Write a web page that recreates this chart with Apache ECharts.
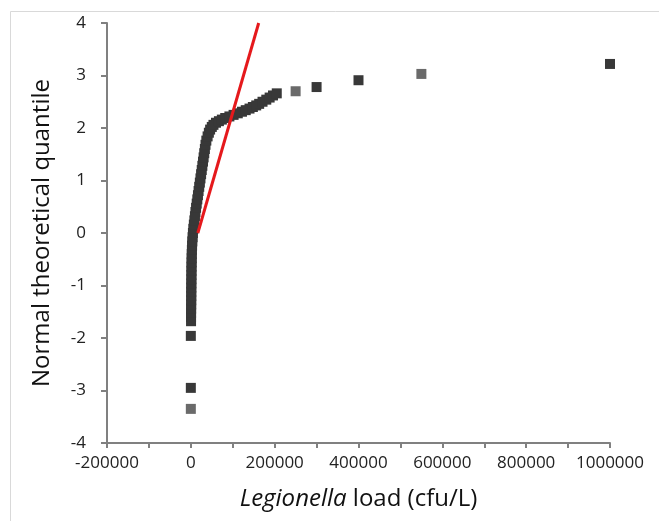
<!DOCTYPE html>
<html>
<head>
<meta charset="utf-8">
<script src="https://cdn.jsdelivr.net/npm/echarts@6/dist/echarts.min.js"></script>
<style>
  html, body { margin: 0; padding: 0; background: #ffffff; }
  #chart { width: 659px; height: 521px; }
</style>
</head>
<body>
<div id="chart"></div>
<script>
// Legionella load (cfu/L) vs normal theoretical quantile
const loads = [
  0, 0, 0,
  500, 500, 600, 700, 800, 900, 1000, 1000, 1100, 1200, 1300, 1400, 1500, 1600, 1800, 2000, 2200, 2500,
  3000, 3500, 4200, 5000, 6000, 7200, 8500, 9800, 11000, 12500, 14000, 15500, 17000, 18500, 20000,
  21500, 23000, 24500, 26000, 27500, 29000, 30500, 32000, 33500, 35000,
  37000, 40000, 43000, 46000, 50000, 54000, 60000, 67000, 74000, 82000, 92000, 102000, 112000,
  122000, 131000, 140000, 148000, 156000, 163000, 171000, 180000, 188000, 196000, 205000,
  250000, 300000, 400000, 550000, 1000000
];
const quantiles = [
  -3.35, -2.95, -1.96,
  -1.68, -1.60, -1.52, -1.44, -1.36, -1.28, -1.20, -1.12, -1.04, -0.96, -0.88, -0.80, -0.72, -0.64, -0.56, -0.48, -0.40, -0.32,
  -0.24, -0.16, -0.08, 0.00, 0.08, 0.16, 0.24, 0.32, 0.40, 0.48, 0.56, 0.64, 0.72, 0.80, 0.88,
  0.96, 1.04, 1.12, 1.20, 1.28, 1.36, 1.44, 1.52, 1.60, 1.68,
  1.76, 1.84, 1.91, 1.97, 2.02, 2.06, 2.10, 2.13, 2.16, 2.19, 2.22, 2.25, 2.28,
  2.31, 2.34, 2.37, 2.40, 2.43, 2.46, 2.50, 2.54, 2.58, 2.62, 2.66,
  2.70, 2.78, 2.91, 3.03, 3.22
];
// points drawn in the lighter grey
const lightPoints = [0, 70, 73];
// reference (fitted) line end points
const lineLoads = [16700, 161900];
const lineQuantiles = [0, 4];
// axis ticks
const xTicks = { min: -200000, max: 1000000, step: 200000 };
const yTicks = { min: -4, max: 4, step: 1 };

const darkData = [], lightData = [];
loads.forEach((v, i) => {
  (lightPoints.includes(i) ? lightData : darkData).push([v, quantiles[i]]);
});
const lineData = lineLoads.map((v, i) => [v, lineQuantiles[i]]);

const axisColor = '#808080';
const font = '"Open Sans", "Noto Sans", sans-serif';

const chart = echarts.init(document.getElementById('chart'), null, { renderer: 'canvas' });
chart.setOption({
  animation: false,
  backgroundColor: '#ffffff',
  graphic: [{
    type: 'rect', left: 8, top: 9, z: -10,
    shape: { x: 0, y: 0, width: 700, height: 560 },
    style: { fill: 'none', stroke: '#d9d9d9', lineWidth: 1 }
  }],
  grid: { left: 107, right: 49, top: 23, bottom: 78, containLabel: false },
  xAxis: {
    type: 'value',
    min: xTicks.min, max: xTicks.max, interval: xTicks.step,
    name: '{i|Legionella} load (cfu/L)',
    nameLocation: 'middle', nameGap: 44,
    nameTextStyle: {
      fontFamily: font, fontSize: 24, color: '#111',
      rich: { i: { fontFamily: font, fontSize: 24, fontStyle: 'italic', color: '#111' } }
    },
    axisLine: { show: true, onZero: false, lineStyle: { color: axisColor, width: 2 } },
    axisTick: { show: true, inside: false, length: 5, lineStyle: { color: axisColor, width: 2 } },
    minorTick: { show: true, splitNumber: 2, length: 5, lineStyle: { color: axisColor, width: 2 } },
    axisLabel: { fontFamily: font, fontSize: 17, color: '#222', margin: 12, formatter: v => String(v) },
    splitLine: { show: false },
    minorSplitLine: { show: false }
  },
  yAxis: {
    type: 'value',
    min: yTicks.min, max: yTicks.max, interval: yTicks.step,
    name: 'Normal theoretical quantile',
    nameLocation: 'middle', nameGap: 53, nameRotate: 90,
    nameTextStyle: { fontFamily: font, fontSize: 24, color: '#111' },
    axisLine: { show: true, onZero: false, lineStyle: { color: axisColor, width: 2 } },
    axisTick: { show: true, inside: false, length: 6, lineStyle: { color: axisColor, width: 2 } },
    axisLabel: { fontFamily: font, fontSize: 17, color: '#222', margin: 21, formatter: v => String(v) },
    splitLine: { show: false }
  },
  series: [
    {
      type: 'scatter', symbol: 'rect', symbolSize: 10, z: 2,
      itemStyle: { color: '#383838', opacity: 1 },
      data: darkData
    },
    {
      type: 'scatter', symbol: 'rect', symbolSize: 10, z: 2,
      itemStyle: { color: '#6a6a6a', opacity: 1 },
      data: lightData
    },
    {
      type: 'line', symbol: 'none', z: 3,
      lineStyle: { color: '#e5191c', width: 3 },
      data: lineData
    }
  ]
});
</script>
</body>
</html>
